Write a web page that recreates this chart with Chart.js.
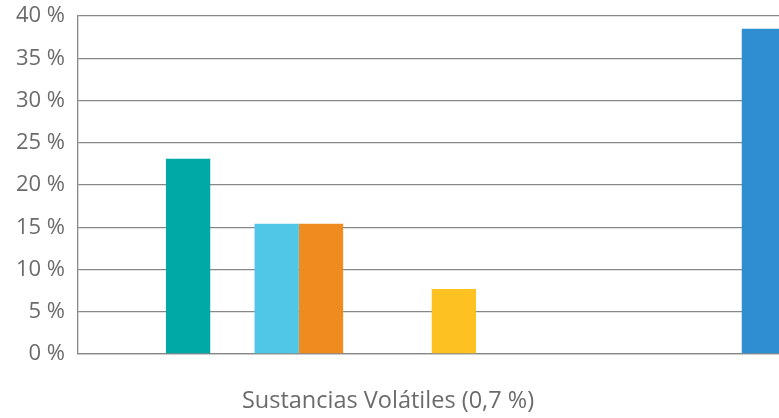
<!DOCTYPE html>
<html>
<head>
<meta charset="utf-8">
<script src="https://cdn.jsdelivr.net/npm/chart.js@4"></script>
<style>
  html, body { margin: 0; padding: 0; background: #fff; overflow: hidden; }
  #wrap { width: 880px; height: 418px; }
</style>
</head>
<body>
<div id="wrap"><canvas id="c" width="880" height="418"></canvas></div>
<script>
const categories = ["Sustancias Volátiles (0,7 %)"];
const seriesNames = ["Serie 1","Serie 2","Serie 3","Serie 4","Serie 5","Serie 6","Serie 7",
                     "Serie 8","Serie 9","Serie 10","Serie 11","Serie 12","Serie 13","Serie 14"];
const seriesValues = [23.1, null, 15.4, 15.4, null, null, 7.7, null, null, null, null, null, null, 38.5];
const seriesColors = ["#00A9A6","#cccccc","#51C7E8","#EF8C1F","#cccccc","#cccccc","#FEC122",
                      "#cccccc","#cccccc","#cccccc","#cccccc","#cccccc","#cccccc","#2F8ECF"];
const yTicks = [0, 5, 10, 15, 20, 25, 30, 35, 40];

const FONT = "'Open Sans', sans-serif";
const TXT = "#6b6b6b";

const categoryTitle = {
  id: 'categoryTitle',
  afterDraw(chart) {
    const ctx = chart.ctx;
    ctx.save();
    ctx.font = "23.5px " + FONT;
    ctx.fillStyle = TXT;
    ctx.textAlign = "center";
    ctx.textBaseline = "alphabetic";
    ctx.fillText(chart.data.labels[0], 388, 408);
    ctx.restore();
  }
};

new Chart(document.getElementById('c'), {
  type: 'bar',
  data: {
    labels: categories,
    datasets: seriesNames.map((n, i) => ({
      label: n,
      data: [seriesValues[i]],
      backgroundColor: seriesColors[i],
      borderWidth: 0,
      barPercentage: 1.0,
      categoryPercentage: 0.779
    }))
  },
  options: {
    responsive: false,
    animation: false,
    layout: { padding: { top: 16, right: 6, bottom: 64, left: 0 } },
    plugins: { legend: { display: false }, tooltip: { enabled: false } },
    scales: {
      x: {
        ticks: { display: false },
        grid: { display: false, drawTicks: false },
        border: { display: true, color: "#888", width: 1.3 }
      },
      y: {
        min: 0, max: 40,
        afterBuildTicks(axis) { axis.ticks = yTicks.map(v => ({ value: v })); },
        afterFit(axis) { axis.width = 78; axis.paddingTop = 0; axis.paddingBottom = 0; },
        ticks: {
          padding: 13,
          color: TXT,
          font: { family: FONT, size: 22 },
          callback: v => v + " %"
        },
        grid: { color: "#888", lineWidth: 1.3, drawTicks: false },
        border: { display: true, color: "#888", width: 1.3 }
      }
    }
  },
  plugins: [categoryTitle]
});
</script>
</body>
</html>
